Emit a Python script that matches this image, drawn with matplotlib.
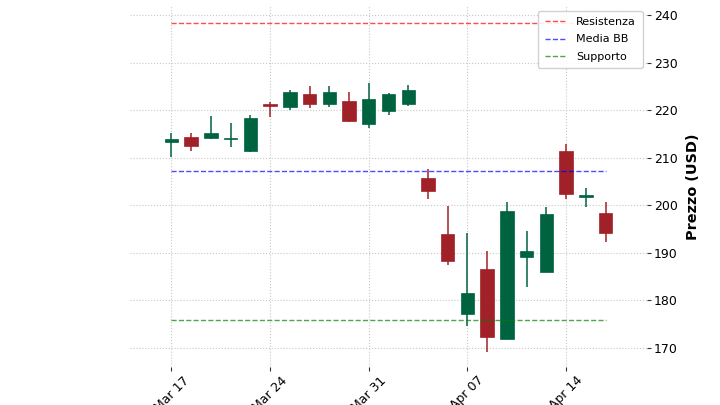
import matplotlib
matplotlib.use("Agg")
import matplotlib.pyplot as plt
import numpy as np

dates = ["Mar 17", "Mar 18", "Mar 19", "Mar 20", "Mar 21",
         "Mar 24", "Mar 25", "Mar 26", "Mar 27", "Mar 28",
         "Mar 31", "Apr 01", "Apr 02", "Apr 03", "Apr 04",
         "Apr 07", "Apr 08", "Apr 09", "Apr 10", "Apr 11",
         "Apr 14", "Apr 15", "Apr 16"]
opens  = [213.3, 214.3, 214.1, 213.9, 211.4, 221.3, 220.6, 223.5, 221.3, 221.9,
          217.1, 219.8, 221.4, 205.7, 194.0, 177.1, 186.7, 171.9, 189.1, 185.9,
          211.5, 201.8, 198.4]
highs  = [215.3, 215.3, 218.8, 217.4, 218.9, 221.7, 224.2, 225.1, 225.1, 223.9,
          225.8, 223.7, 225.3, 207.6, 199.9, 194.1, 190.3, 200.6, 194.7, 199.6,
          213.0, 203.6, 200.8]
lows   = [210.1, 211.4, 213.9, 212.3, 211.2, 218.6, 220.0, 220.5, 220.6, 217.6,
          216.2, 219.0, 220.9, 201.3, 187.4, 174.6, 169.2, 171.9, 182.9, 185.9,
          201.3, 199.7, 192.3]
closes = [214.0, 212.5, 215.3, 214.2, 218.3, 220.8, 223.9, 221.4, 223.9, 217.8,
          222.3, 223.4, 224.2, 203.1, 188.3, 181.5, 172.3, 198.9, 190.5, 198.2,
          202.4, 202.1, 194.2]
resistenza = 238.3
media_bb = 207.2
supporto = 175.9
tick_labels = ["Mar 17", "Mar 24", "Mar 31", "Apr 07", "Apr 14"]

up_color = "#006340"
down_color = "#A02128"

fig = plt.figure(figsize=(7.2, 4.05), dpi=100)
ax = fig.add_axes([0.1806, 0.0938, 0.7180, 0.8912])

x = np.arange(len(dates))
o = np.array(opens); c = np.array(closes)
h = np.array(highs); l = np.array(lows)
colors = [up_color if cc >= oo else down_color for oo, cc in zip(o, c)]

ax.vlines(x, l, h, colors=colors, linewidth=1.1, zorder=2)
body_h = np.maximum(np.abs(c - o), 0.25)
ax.bar(x, body_h, bottom=np.minimum(o, c), width=0.68, color=colors,
       edgecolor=colors, linewidth=0.5, zorder=3)

ax.plot([x[0], x[-1]], [resistenza, resistenza], ls="--", color="red",
        alpha=0.7, lw=1.0, label="Resistenza", zorder=4)
ax.plot([x[0], x[-1]], [media_bb, media_bb], ls="--", color="blue",
        alpha=0.7, lw=1.0, label="Media BB", zorder=4)
ax.plot([x[0], x[-1]], [supporto, supporto], ls="--", color="green",
        alpha=0.7, lw=1.0, label="Supporto", zorder=4)

ax.set_xlim(-2.1, 24.1)
ax.set_ylim(166.0, 241.9)

ax.set_xticks([dates.index(t) for t in tick_labels])
ax.set_xticklabels(tick_labels, rotation=45, fontsize=9)
ax.set_yticks([170, 180, 190, 200, 210, 220, 230, 240])
ax.yaxis.tick_right()
ax.yaxis.set_label_position("right")
ax.tick_params(axis="y", labelsize=9, length=3, color="#333333", pad=2)
ax.tick_params(axis="x", length=3, color="#333333", pad=2)
for s in ax.spines.values():
    s.set_visible(False)
ax.grid(True, ls=":", color="#c8c8c8", lw=0.8, zorder=0)
ax.set_axisbelow(True)
ax.set_ylabel("Prezzo (USD)", fontsize=10.4, fontweight="bold", labelpad=6)

leg = ax.legend(loc="upper right", fontsize=8, framealpha=0.9,
                edgecolor="#cccccc", borderaxespad=0.4, labelspacing=0.65,
                borderpad=0.6)

fig.savefig("out.png", dpi=100)
